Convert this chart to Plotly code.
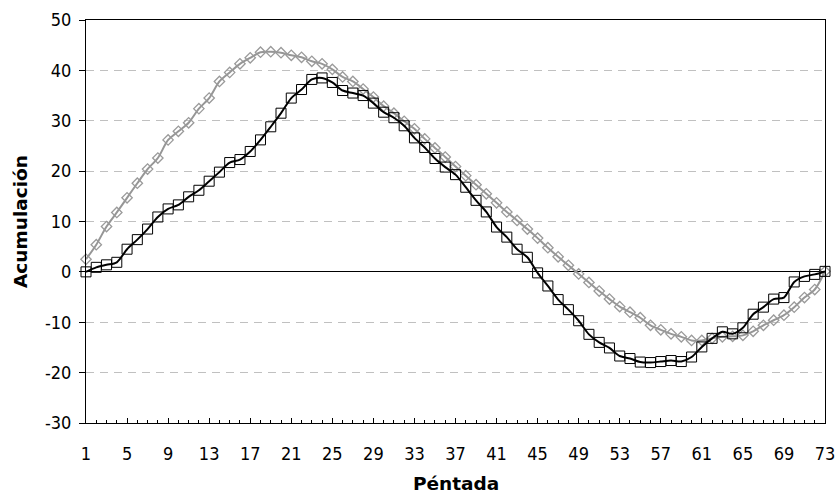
import plotly.graph_objects as go

pentadas = list(range(1, 74))

serie_gris = [2.5, 5.4, 9.0, 11.8, 14.7, 17.6, 20.4, 22.6, 26.2, 27.9,
              29.6, 32.4, 34.5, 37.8, 39.6, 41.3, 42.5, 43.6, 43.7, 43.5,
              43.0, 42.6, 41.8, 41.3, 40.2, 38.7, 37.8, 36.3, 34.7, 32.9,
              31.5, 29.9, 28.4, 26.4, 24.6, 22.8, 20.9, 19.1, 17.3, 15.5,
              13.7, 11.9, 10.2, 8.5, 6.7, 4.8, 3.0, 1.3, -0.4, -2.1,
              -3.8, -5.4, -6.9, -8.0, -9.1, -10.6, -11.5, -12.3, -12.9, -13.6,
              -13.6, -13.2, -12.9, -12.8, -12.6, -11.8, -10.6, -9.6, -8.6, -7.0,
              -5.1, -3.5, 0.1]

serie_negra = [0.0, 0.9, 1.4, 1.9, 4.5, 6.4, 8.5, 10.9, 12.5, 13.3,
               14.9, 16.2, 18.0, 19.8, 21.7, 22.3, 23.9, 26.2, 28.8, 31.5,
               34.5, 36.2, 38.2, 38.5, 37.6, 36.0, 35.5, 35.0, 33.5, 31.7,
               30.6, 29.0, 26.6, 24.7, 22.5, 20.8, 19.3, 16.8, 14.2, 11.9,
               8.9, 6.9, 4.5, 2.9, -0.2, -2.8, -5.5, -7.5, -9.7, -12.4,
               -14.0, -15.1, -16.7, -17.2, -17.9, -18.0, -17.8, -17.6, -17.8, -16.9,
               -14.9, -13.2, -11.9, -12.3, -11.1, -8.4, -7.0, -5.4, -5.1, -2.0,
               -0.9, -0.5, 0.1]

x_ticks = list(range(1, 74, 4))
y_ticks = list(range(-30, 51, 10))
x_label = "Péntada"
y_label = "Acumulación"

FONT = "DejaVu Sans Condensed"
TITLE_FONT = "DejaVu Sans"

fig = go.Figure()
fig.add_trace(go.Scatter(
    x=pentadas, y=serie_gris, mode="lines+markers", cliponaxis=False,
    line=dict(color="#969696", width=2, shape="spline", smoothing=0.8),
    marker=dict(symbol="diamond-open", size=8, color="#9a9a9a",
                line=dict(color="#9a9a9a", width=1.3)),
    showlegend=False))
fig.add_trace(go.Scatter(
    x=pentadas, y=serie_negra, mode="lines+markers", cliponaxis=False,
    line=dict(color="#000000", width=2, shape="spline", smoothing=0.8),
    marker=dict(symbol="square-open", size=10, color="#000000",
                line=dict(color="#000000", width=1)),
    showlegend=False))

fig.update_layout(
    width=838, height=497,
    margin=dict(l=86, r=13, t=19.5, b=74),
    paper_bgcolor="white", plot_bgcolor="white",
    font=dict(family=FONT, size=18, color="black"),
    xaxis=dict(
        range=[1, 73], tickmode="array", tickvals=x_ticks,
        ticktext=[str(v) for v in x_ticks],
        ticks="inside", ticklen=5, tickcolor="black", tickwidth=1,
        minor=dict(dtick=1, tick0=1, ticks="inside", ticklen=3,
                   tickcolor="black", showgrid=False),
        showgrid=False, zeroline=False,
        showline=True, linecolor="black", linewidth=1, mirror=True,
        ticklabelstandoff=14, automargin=False,
    ),
    yaxis=dict(
        range=[-30, 50], tickmode="array", tickvals=y_ticks,
        ticktext=[str(v) for v in y_ticks],
        ticks="outside", ticklen=6, tickcolor="black", tickwidth=1,
        showgrid=True, gridcolor="#c0c0c0", gridwidth=1, griddash="8px,6px",
        zeroline=True, zerolinecolor="black", zerolinewidth=1,
        showline=True, linecolor="black", linewidth=1, mirror=True,
        ticklabelstandoff=4, automargin=False,
    ),
    annotations=[
        dict(text=f"<b>{x_label}</b>", xref="paper", yref="paper", x=0.5, y=0,
             xanchor="center", yanchor="middle", yshift=-60, showarrow=False,
             font=dict(family=TITLE_FONT, size=18.5, color="black")),
        dict(text=f"<b>{y_label}</b>", xref="paper", yref="paper", x=0, y=0.5,
             xanchor="center", yanchor="middle", xshift=-65.5, textangle=-90,
             showarrow=False,
             font=dict(family=TITLE_FONT, size=18.5, color="black")),
    ],
)

fig.write_html("out.html", config={"displayModeBar": False},
               post_script="document.body.style.margin='0';document.body.style.overflow='hidden';")
